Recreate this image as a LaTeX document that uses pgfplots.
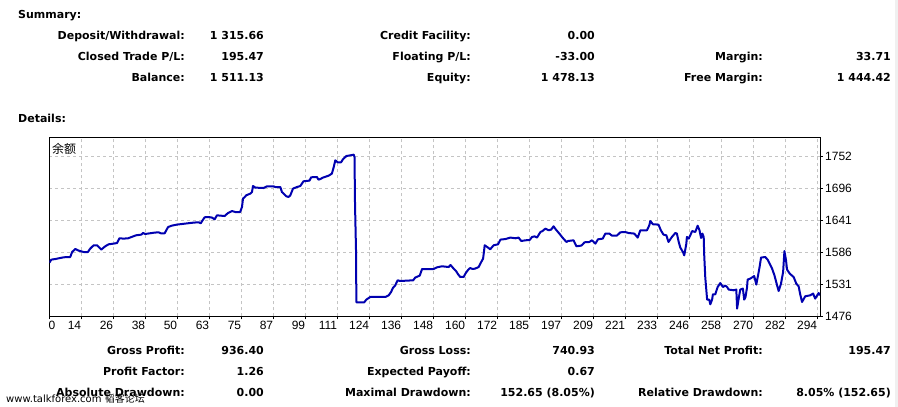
\documentclass[border=0pt]{standalone}
\usepackage{fontspec}
\usepackage{pgfplots}
\pgfplotsset{compat=1.18}
\setmainfont{DejaVu Sans}
\newfontfamily\tickfont{Liberation Sans}
\newfontfamily\cjk{Noto Sans CJK SC}
\definecolor{balblue}{RGB}{0,0,176}
\definecolor{gridgray}{RGB}{196,196,196}
\newcommand\lbl{\fontsize{11bp}{13bp}\selectfont\bfseries}
\newcommand\R[3]{\node[anchor=base east,inner sep=0pt,font=\lbl] at (#1bp,#2bp) {#3};}
\newcommand\Lf[3]{\node[anchor=base west,inner sep=0pt,font=\lbl] at (#1bp,#2bp) {#3};}
\begin{document}
\begin{tikzpicture}
\path[use as bounding box, fill=white] (0,0) rectangle (898bp,407bp);
\fill[black!6] (895bp,0) rectangle (898bp,407bp);
% summary
\Lf{18}{388.5}{Summary:}
\R{185}{367.7}{Deposit/Withdrawal:} \R{264}{367.7}{1 315.66}
\R{471}{367.7}{Credit Facility:} \R{595}{367.7}{0.00}
\R{185}{346.5}{Closed Trade P/L:} \R{264}{346.5}{195.47}
\R{471}{346.5}{Floating P/L:} \R{595}{346.5}{-33.00}
\R{763}{346.5}{Margin:} \R{891}{346.5}{33.71}
\R{185}{325.3}{Balance:} \R{264}{325.3}{1 511.13}
\R{471}{325.3}{Equity:} \R{595}{325.3}{1 478.13}
\R{763}{325.3}{Free Margin:} \R{891}{325.3}{1 444.42}
\Lf{18}{284.3}{Details:}
% bottom
\R{185}{52.7}{Gross Profit:} \R{264}{52.7}{936.40}
\R{471}{52.7}{Gross Loss:} \R{595}{52.7}{740.93}
\R{763}{52.7}{Total Net Profit:} \R{891}{52.7}{195.47}
\R{185}{31.5}{Profit Factor:} \R{264}{31.5}{1.26}
\R{471}{31.5}{Expected Payoff:} \R{595}{31.5}{0.67}
\R{185}{10.3}{Absolute Drawdown:} \R{264}{10.3}{0.00}
\R{471}{10.3}{Maximal Drawdown:} \R{595}{10.3}{152.65 (8.05\%)}
\R{763}{10.3}{Relative Drawdown:} \R{891}{10.3}{8.05\% (152.65)}
\begin{axis}[
  at={(49.3bp,90.7bp)}, anchor=south west,
  width=770.7bp, height=178.3bp, scale only axis,
  xmin=1.83, xmax=294.93, ymin=1476, ymax=1783.6,
  axis line style={black, line width=1bp},
  tick align=outside, major tick length=3bp,
  xtick pos=left, ytick pos=right,
  tick style={black, line width=1bp},
  xtick={1.83,14.00,26.17,38.34,50.51,62.68,74.85,87.02,99.19,111.36,123.53,135.70,147.87,160.04,172.21,184.38,196.55,208.72,220.89,233.06,245.23,257.40,269.57,281.74,293.91},
  xticklabels={\rlap{0},14,26,38,50,63,75,87,99,111,124,136,148,160,172,185,197,209,221,233,246,258,270,282,294},
  ytick={1476,1531.2,1586.4,1641.6,1696.8,1752},
  yticklabels={1476,1531,1586,1641,1696,1752},
  yticklabel pos=right,
  ticklabel style={font=\tickfont\fontsize{12bp}{14bp}\selectfont},
  xticklabel style={anchor=north east, inner xsep=0pt, inner ysep=2bp},
  yticklabel style={anchor=west, inner xsep=2bp},
  grid=major,
  major grid style={dash pattern=on 3bp off 3bp, color=gridgray, line width=1bp},
]
\addplot[color=balblue, line width=2bp, line join=round, mark=none] table {
1.9 1568.6
2.6 1573.8
4.1 1574.8
7.3 1577.8
9.8 1578.3
10.5 1586.9
11.7 1592.1
13.0 1589.3
14.9 1586.9
16.5 1586.9
17.4 1592.8
18.7 1598.5
20.0 1598.5
21.6 1591.1
23.1 1596.8
24.4 1600.2
26.3 1601.4
27.6 1602.4
28.5 1610.6
30.1 1610.0
31.8 1610.6
34.8 1615.7
36.8 1616.9
37.5 1619.7
38.3 1618.0
41.9 1620.4
43.4 1620.9
44.2 1619.2
45.7 1619.2
47.0 1630.0
48.5 1632.5
50.4 1634.2
53.5 1635.9
56.7 1637.6
58.6 1638.2
59.4 1636.4
60.9 1646.8
62.4 1647.3
63.7 1646.3
64.7 1643.3
65.6 1650.2
68.5 1649.0
69.8 1654.2
71.3 1657.6
72.6 1655.9
74.4 1655.9
75.1 1664.5
75.5 1679.0
76.4 1683.0
76.7 1684.7
78.3 1687.7
78.9 1690.4
79.3 1700.8
80.2 1698.0
83.3 1697.3
84.6 1700.3
87.1 1700.3
87.8 1699.0
89.7 1699.0
90.3 1690.4
92.0 1683.0
92.8 1681.8
93.5 1684.7
94.5 1696.3
96.0 1699.0
97.3 1700.8
97.9 1704.9
98.5 1708.9
100.8 1710.1
101.4 1715.8
103.6 1716.3
104.2 1711.8
104.9 1712.8
105.9 1715.3
108.1 1718.7
109.3 1722.2
110.0 1733.5
110.6 1745.1
111.5 1741.7
112.8 1741.7
113.5 1746.8
114.8 1752.5
116.3 1753.7
117.6 1754.9
117.9 1750.8
118.1 1667.5
118.5 1584.2
118.6 1500.2
121.6 1500.2
122.4 1504.8
123.9 1509.3
129.6 1509.3
130.9 1512.2
131.8 1517.9
132.5 1524.8
133.4 1529.5
134.3 1538.1
135.3 1536.9
140.2 1538.1
141.0 1542.8
142.7 1546.2
143.6 1557.6
148.0 1557.6
149.3 1560.5
151.2 1562.3
153.7 1561.0
154.4 1564.5
155.6 1558.3
156.5 1554.1
157.3 1548.5
158.1 1543.8
159.4 1543.8
160.3 1551.4
161.3 1557.1
161.9 1559.3
162.8 1557.6
163.8 1558.3
165.1 1561.0
166.1 1569.7
166.8 1575.5
167.2 1589.9
167.4 1598.5
168.7 1594.5
169.5 1591.6
170.8 1598.5
172.5 1600.2
173.4 1608.3
175.3 1609.3
177.2 1611.8
179.1 1610.6
180.3 1611.8
181.3 1605.9
182.9 1607.1
184.5 1607.6
185.4 1612.8
186.4 1614.0
187.3 1611.8
188.6 1621.4
189.4 1623.1
190.5 1627.3
191.7 1624.4
192.7 1625.6
193.6 1631.3
194.5 1625.6
195.8 1618.7
197.0 1611.8
198.5 1604.2
199.1 1605.9
201.2 1607.1
202.3 1596.8
204.2 1598.0
205.4 1603.7
207.2 1604.2
208.2 1607.1
209.5 1601.4
210.5 1608.8
212.3 1610.0
213.3 1618.7
214.8 1618.7
215.8 1615.2
217.7 1615.2
219.0 1620.9
220.9 1621.4
222.1 1619.7
224.3 1618.7
225.6 1611.8
226.6 1624.4
229.1 1624.4
230.0 1632.8
230.4 1640.4
231.4 1634.7
233.5 1634.2
234.4 1624.4
235.4 1616.9
236.5 1615.7
237.3 1604.2
238.6 1612.8
239.9 1619.7
240.5 1618.7
241.2 1604.2
241.8 1594.5
242.8 1586.9
243.3 1581.2
244.1 1601.4
244.3 1612.8
245.0 1610.0
245.6 1615.7
246.3 1623.1
247.5 1621.4
248.4 1632.3
249.1 1624.4
249.7 1611.1
250.2 1618.7
250.7 1612.8
250.9 1581.2
251.3 1542.8
252.0 1504.8
252.8 1504.8
253.2 1496.7
253.9 1504.8
254.2 1514.0
255.1 1514.0
256.0 1526.5
257.0 1533.4
258.0 1526.5
258.9 1529.0
259.6 1526.5
260.2 1522.1
262.1 1520.9
263.1 1522.1
263.4 1489.3
264.0 1506.5
264.6 1522.1
265.6 1523.8
266.1 1504.8
266.6 1509.3
267.2 1526.5
267.4 1539.3
268.4 1541.0
269.9 1545.5
270.7 1530.7
271.5 1549.7
272.0 1562.3
272.5 1577.3
274.1 1578.3
275.0 1573.8
276.7 1558.3
277.6 1546.7
278.6 1529.5
279.2 1519.6
280.1 1532.4
280.9 1552.4
281.4 1588.6
282.0 1572.6
282.4 1556.6
283.4 1549.7
284.9 1543.8
285.9 1532.4
286.8 1527.8
287.4 1514.0
288.1 1500.7
289.3 1510.5
291.2 1512.2
292.3 1515.2
293.1 1506.5
294.4 1516.2
294.9 1512.2
};
\end{axis}
\node[anchor=base west, inner sep=0pt, font=\cjk\fontsize{12bp}{14bp}\selectfont] at (52bp,253bp) {余额};
\node[anchor=base west, inner sep=0pt, font=\fontsize{10bp}{12bp}\selectfont] at (6bp,5bp) {www.talkforex.com {\cjk 韬客论坛}};
\end{tikzpicture}
\end{document}
